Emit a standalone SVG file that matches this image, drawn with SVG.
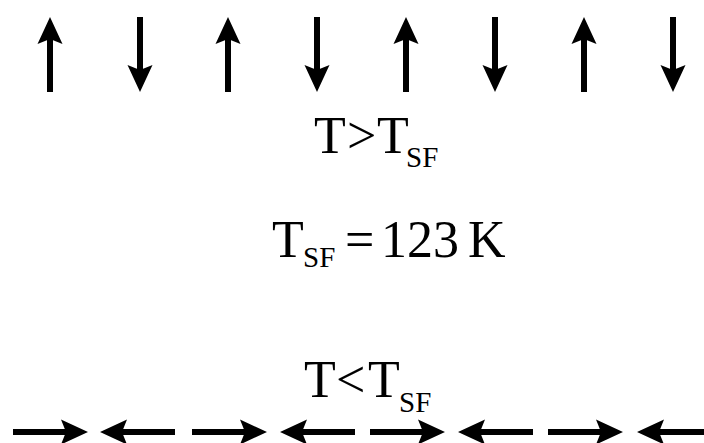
<svg xmlns="http://www.w3.org/2000/svg" xmlns:xlink="http://www.w3.org/1999/xlink" width="704" height="443" viewBox="0 0 704 443">
  <style>
    .lbl { font-family: "Liberation Serif", "Times New Roman", serif; fill: #000; font-size: 52px; }
    .sub { font-size: 29px; }
    .arr { fill: #000; }
  </style>
  <defs>
    <g id="arrow">
      <path class="arr" d="M0,0 L12.5,27 L0,22 L-12.5,27 Z"/>
      <rect class="arr" x="-3" y="20" width="6" height="55"/>
    </g>
  </defs>
  <rect width="704" height="443" fill="#fff"/>
  <g id="spins-aligned">
    <use xlink:href="#arrow" transform="translate(50,17)"/>
    <use xlink:href="#arrow" transform="translate(140,92) rotate(180)"/>
    <use xlink:href="#arrow" transform="translate(228,17)"/>
    <use xlink:href="#arrow" transform="translate(317,92) rotate(180)"/>
    <use xlink:href="#arrow" transform="translate(406,17)"/>
    <use xlink:href="#arrow" transform="translate(495,92) rotate(180)"/>
    <use xlink:href="#arrow" transform="translate(584,17)"/>
    <use xlink:href="#arrow" transform="translate(673,92) rotate(180)"/>
  </g>
  <g id="label-above">
    <text class="lbl" y="153"><tspan x="314">T</tspan><tspan x="347">&gt;</tspan><tspan x="377">T</tspan><tspan class="sub" x="406" y="167">SF</tspan></text>
  </g>
  <g id="label-tsf">
    <text class="lbl" y="257"><tspan x="272">T</tspan><tspan class="sub" x="303" y="267">SF</tspan><tspan x="345" y="257">=</tspan><tspan x="381">123</tspan><tspan x="468">K</tspan></text>
  </g>
  <g id="label-below">
    <text class="lbl" y="397"><tspan x="304">T</tspan><tspan x="336">&lt;</tspan><tspan x="368">T</tspan><tspan class="sub" x="399" y="412">SF</tspan></text>
  </g>
  <g id="spins-inplane">
    <use xlink:href="#arrow" transform="translate(88,432) rotate(90)"/>
    <use xlink:href="#arrow" transform="translate(100,432) rotate(-90)"/>
    <use xlink:href="#arrow" transform="translate(267,432) rotate(90)"/>
    <use xlink:href="#arrow" transform="translate(280,432) rotate(-90)"/>
    <use xlink:href="#arrow" transform="translate(445,432) rotate(90)"/>
    <use xlink:href="#arrow" transform="translate(458,432) rotate(-90)"/>
    <use xlink:href="#arrow" transform="translate(623,432) rotate(90)"/>
    <use xlink:href="#arrow" transform="translate(637,432) rotate(-90)"/>
  </g>
</svg>
